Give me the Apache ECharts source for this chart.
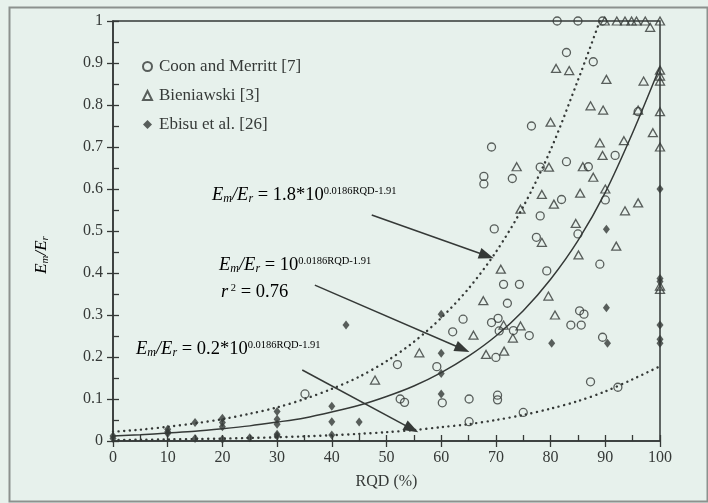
<!DOCTYPE html>
<html>
<head>
<meta charset="utf-8">
<script src="https://cdn.jsdelivr.net/npm/echarts@6/dist/echarts.min.js"></script>
<style>
html,body{margin:0;padding:0;background:#e8f1ec;}
#chart{width:708px;height:503px;}
</style>
</head>
<body>
<div id="chart"></div>
<script>
// ---- data ----
const legendNames = ['Coon and Merritt [7]', 'Bieniawski [3]', 'Ebisu et al. [26]'];

const coonMerritt = [
  [81.2,1],[85,1],[89.5,1],[82.9,0.925],[87.8,0.903],[76.5,0.75],[69.2,0.70],[91.8,0.68],
  [82.9,0.665],[78.1,0.652],[86.9,0.653],[96,0.784],[67.8,0.63],[67.8,0.612],[73,0.625],
  [82,0.575],[78.1,0.536],[69.7,0.505],[77.4,0.485],[85,0.493],[90,0.574],[79.3,0.405],
  [89,0.421],[71.4,0.373],[74.3,0.373],[72.1,0.328],[85.3,0.31],[86.1,0.302],[64,0.29],
  [70.4,0.292],[69.2,0.282],[62.1,0.26],[70.6,0.262],[73.2,0.263],[76.1,0.251],[83.7,0.276],
  [85.6,0.276],[89.5,0.247],[70,0.199],[59.2,0.177],[52,0.182],[52.5,0.10],[53.3,0.092],
  [60.2,0.091],[65.1,0.10],[70.3,0.109],[70.3,0.098],[65.1,0.046],[75,0.068],[87.3,0.141],
  [92.3,0.128],[35.1,0.112]
];

const bieniawski = [
  [89.9,1],[92.1,1],[93.6,1],[94.8,1],[95.7,1],[97.3,1],[100,1],[98.2,0.985],
  [81,0.887],[83.4,0.882],[90.2,0.861],[97,0.857],[100,0.883],[100,0.869],[100,0.857],
  [87.3,0.798],[89.6,0.788],[96,0.788],[100,0.784],[80,0.759],[98.7,0.734],[89,0.71],
  [93.4,0.715],[100,0.70],[89.5,0.68],[73.8,0.653],[79.7,0.652],[85.9,0.653],[87.8,0.628],
  [90,0.60],[78.4,0.587],[85.4,0.59],[96,0.567],[93.6,0.548],[74.5,0.552],[80.6,0.564],
  [78.4,0.473],[84.6,0.518],[85.1,0.443],[92,0.464],[70.9,0.409],[79.6,0.345],[67.7,0.334],
  [80.8,0.30],[100,0.369],[100,0.361],[71.4,0.276],[74.5,0.274],[73.1,0.245],[65.9,0.252],
  [56,0.21],[68.2,0.206],[71.5,0.214],[47.9,0.145]
];

const ebisu = [
  [0,0.006],[0,0.012],[10,0.018],[10,0.028],[10,0.022],[15,0.044],[15,0.006],
  [20,0.054],[20,0.044],[20,0.034],[20,0.004],[25,0.008],[30,0.07],[30,0.052],
  [30,0.04],[30,0.016],[30,0.012],[40,0.083],[40,0.046],[40,0.014],[42.6,0.276],
  [45,0.045],[60,0.302],[60,0.209],[60,0.161],[60,0.112],[80.2,0.233],[90.2,0.504],
  [90.2,0.317],[90.4,0.233],[100,0.60],[100,0.387],[100,0.38],[100,0.276],[100,0.242],[100,0.233]
];

// fitted curves
const fitRQD   = [0,5,10,15,20,25,30,35,40,45,50,55,60,65,70,75,80,85,90,95,100];
const fitMid   = [0.012,0.015,0.019,0.023,0.029,0.036,0.045,0.055,0.069,0.085,0.106,0.131,0.163,0.202,0.25,0.31,0.385,0.477,0.592,0.734,0.891];
const fitLow   = [0.0025,0.003,0.0038,0.0047,0.0058,0.0072,0.0089,0.011,0.0137,0.017,0.021,0.026,0.033,0.040,0.050,0.062,0.077,0.095,0.118,0.147,0.178];
const upRQD    = [0,5,10,15,20,25,30,35,40,45,50,55,60,65,70,75,80,85,89];
const fitHigh  = [0.022,0.027,0.034,0.042,0.052,0.065,0.08,0.1,0.124,0.153,0.19,0.236,0.293,0.363,0.45,0.558,0.693,0.859,1.0];

// annotation arrows [start, tip] in data units
const arrowHigh = [[47.3,0.538],[68.3,0.441]];
const arrowMid  = [[36.9,0.371],[63.9,0.219]];
const arrowLow  = [[34.6,0.169],[54.6,0.029]];

const xTicks = {min:0, max:100, interval:10};
const yTicks = {min:0, max:1, interval:0.1};

// ---- chart ----
const INK = '#353937';
const SERIF = '"Liberation Serif", "Times New Roman", serif';

function pairs(xs, ys){ return xs.map((x,i)=>[x, ys[i]]); }

const chart = echarts.init(document.getElementById('chart'), null, {renderer:'canvas'});

const eqRich = {
  i:{fontFamily:SERIF, fontStyle:'italic', fontSize:18.5, color:INK, lineHeight:24, verticalAlign:'middle'},
  n:{fontFamily:SERIF, fontSize:18.5, color:INK, lineHeight:24, verticalAlign:'middle'},
  sub:{fontFamily:SERIF, fontStyle:'italic', fontSize:12, color:INK, lineHeight:24, verticalAlign:'bottom', padding:[0,0,2,0]},
  sup:{fontFamily:SERIF, fontSize:10.5, color:INK, lineHeight:24, verticalAlign:'top', padding:[3,0,0,0]}
};

function arrowLine(a){
  return [{coord:a[0], symbol:'none'}, {coord:a[1], symbol:'triangle', symbolSize:[11,15]}];
}

const option = {
  backgroundColor:'#e7f1ec',
  animation:false,
  grid:{left:113, right:48, top:21, bottom:62, show:true, borderColor:INK, borderWidth:1.5, backgroundColor:'transparent'},
  legend:{
    data:legendNames, orient:'vertical', left:137, top:53, itemWidth:9, itemHeight:9, itemGap:12,
    textStyle:{fontFamily:SERIF, fontSize:17, color:INK, padding:[0,0,0,2]}, selectedMode:false
  },
  xAxis:[
    {type:'value', min:xTicks.min, max:xTicks.max, interval:xTicks.interval, position:'bottom',
     axisLine:{show:true, onZero:false, lineStyle:{color:INK, width:1.5}},
     axisTick:{show:true, length:6, lineStyle:{color:INK, width:1.3}},
     axisLabel:{margin:9, fontFamily:SERIF, fontSize:16, color:INK},
     splitLine:{show:false},
     name:'RQD (%)', nameLocation:'middle', nameGap:33,
     nameTextStyle:{fontFamily:SERIF, fontSize:16, color:INK}},
    {type:'value', min:xTicks.min, max:xTicks.max, interval:xTicks.interval, position:'bottom',
     axisLine:{show:false, onZero:false},
     axisTick:{show:true, inside:true, length:6, lineStyle:{color:INK, width:1.3}},
     minorTick:{show:true, splitNumber:2, length:6, lineStyle:{color:INK, width:1.3}},
     axisLabel:{show:false}, splitLine:{show:false}}
  ],
  yAxis:[
    {type:'value', min:yTicks.min, max:yTicks.max, interval:yTicks.interval, position:'left',
     axisLine:{show:true, onZero:false, lineStyle:{color:INK, width:1.5}},
     axisTick:{show:true, length:6, lineStyle:{color:INK, width:1.3}},
     axisLabel:{margin:10, fontFamily:SERIF, fontSize:16, color:INK},
     splitLine:{show:false}},
    {type:'value', min:yTicks.min, max:yTicks.max, interval:yTicks.interval, position:'left',
     axisLine:{show:false, onZero:false},
     axisTick:{show:true, inside:true, length:6, lineStyle:{color:INK, width:1.3}},
     minorTick:{show:true, splitNumber:2, length:6, lineStyle:{color:INK, width:1.3}},
     axisLabel:{show:false}, splitLine:{show:false}}
  ],
  series:[
    {type:'line', name:'fitMid', data:pairs(fitRQD, fitMid), smooth:0.3, showSymbol:false, silent:true,
     lineStyle:{color:INK, width:1.5}, z:2,
     markLine:{silent:true, symbol:['none','triangle'], label:{show:false},
       lineStyle:{color:INK, width:1.5, type:'solid'}, itemStyle:{color:INK},
       data:[arrowLine(arrowHigh), arrowLine(arrowMid), arrowLine(arrowLow)]}},
    {type:'line', name:'fitHigh', data:pairs(upRQD, fitHigh), smooth:0.3, showSymbol:false, silent:true,
     lineStyle:{color:INK, width:2.4, type:[0.1,5.5], cap:'round'}, z:2},
    {type:'line', name:'fitLow', data:pairs(fitRQD, fitLow), smooth:0.3, showSymbol:false, silent:true,
     lineStyle:{color:INK, width:2.4, type:[0.1,5.5], cap:'round'}, z:2},
    {type:'scatter', name:legendNames[0], data:coonMerritt, symbol:'circle', symbolSize:8,
     itemStyle:{color:'rgba(0,0,0,0)', borderColor:INK, borderWidth:1.3}, z:3},
    {type:'scatter', name:legendNames[1], data:bieniawski, symbol:'triangle', symbolSize:[9,8],
     itemStyle:{color:'rgba(0,0,0,0)', borderColor:INK, borderWidth:1.3}, z:3},
    {type:'scatter', name:legendNames[2], data:ebisu, symbol:'diamond', symbolSize:[7,9],
     itemStyle:{color:INK}, z:3}
  ],
  graphic:[
    {type:'rect', left:7, top:5, shape:{width:698, height:494}, style:{fill:'none', stroke:'#8c918e', lineWidth:2}, silent:true},
    {type:'text', x:42, y:255, rotation:Math.PI/2,
     style:{text:'{i|E}{sub|m}{i|/E}{sub|r}', align:'center', verticalAlign:'middle', rich:{
       i:{fontFamily:SERIF, fontStyle:'italic', fontSize:17, color:INK, lineHeight:22, verticalAlign:'middle'},
       sub:{fontFamily:SERIF, fontStyle:'italic', fontSize:11, color:INK, lineHeight:22, verticalAlign:'bottom', padding:[0,0,2,0]}
     }}},
    {type:'text', left:212, top:183, style:{text:'{i|E}{sub|m}{i|/E}{sub|r}{n| = 1.8*10}{sup|0.0186RQD-1.91}', rich:eqRich}},
    {type:'text', left:219, top:253, style:{text:'{i|E}{sub|m}{i|/E}{sub|r}{n| = 10}{sup|0.0186RQD-1.91}', rich:eqRich}},
    {type:'text', left:221, top:280, style:{text:'{i|r}{sup| 2}{n| = 0.76}', rich:eqRich}},
    {type:'text', left:136, top:337, style:{text:'{i|E}{sub|m}{i|/E}{sub|r}{n| = 0.2*10}{sup|0.0186RQD-1.91}', rich:eqRich}}
  ]
};
chart.setOption(option);
</script>
</body>
</html>
